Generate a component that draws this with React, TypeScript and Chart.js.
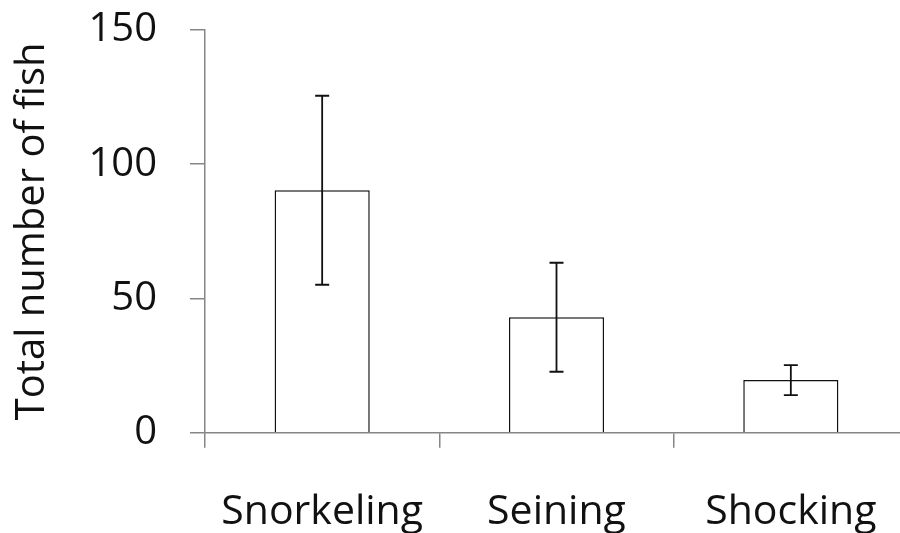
import React, { useEffect, useRef } from "react";
import { Chart, registerables } from "chart.js";

Chart.register(...registerables);

// Sampling methods and the fish counts recorded with each
const methods = ["Snorkeling", "Seining", "Shocking"];
const totalFish = [90.3, 43, 19.6];
const fishError = [35.2, 20.3, 5.6];
const yTicks = [0, 50, 100, 150];

const AXIS_GREY = "#868686";
const FONT = "'Open Sans', sans-serif";

// Draws symmetric error bars with caps on each bar
const errorBars = {
  id: "errorBars",
  afterDatasetsDraw(chart: any) {
    const meta = chart.getDatasetMeta(0);
    const y = chart.scales.y;
    const ctx = chart.ctx;
    ctx.save();
    ctx.strokeStyle = "#111";
    ctx.lineWidth = 1.8;
    meta.data.forEach((bar: any, i: number) => {
      const hi = y.getPixelForValue(totalFish[i] + fishError[i]);
      const lo = y.getPixelForValue(totalFish[i] - fishError[i]);
      const half = 7;
      ctx.beginPath();
      ctx.moveTo(bar.x, hi);
      ctx.lineTo(bar.x, lo);
      ctx.moveTo(bar.x - half, hi);
      ctx.lineTo(bar.x + half, hi);
      ctx.moveTo(bar.x - half, lo);
      ctx.lineTo(bar.x + half, lo);
      ctx.stroke();
    });
    ctx.restore();
  },
};

export default function App() {
  const ref = useRef<HTMLCanvasElement>(null);

  useEffect(() => {
    if (!ref.current) return;
    const chart = new Chart(ref.current, {
      type: "bar",
      data: {
        labels: methods,
        datasets: [
          {
            data: totalFish,
            backgroundColor: "#ffffff",
            borderColor: "#111111",
            borderWidth: 1.5,
            categoryPercentage: 1,
            barPercentage: 0.406,
          },
        ],
      },
      options: {
        responsive: false,
        animation: false,
        events: [],
        layout: { padding: { top: 30, right: 12, left: 0, bottom: 0 } },
        plugins: {
          legend: { display: false },
          tooltip: { enabled: false },
        },
        scales: {
          x: {
            grid: {
              drawOnChartArea: false,
              drawTicks: true,
              tickLength: 15,
              color: AXIS_GREY,
              lineWidth: 1.5,
              offset: true,
            },
            border: { display: true, color: AXIS_GREY, width: 1.5 },
            ticks: {
              color: "#111",
              font: { family: FONT, size: 41 },
              padding: 40,
              maxRotation: 0,
            },
            afterFit(scale: any) {
              scale.height = 100.3;
            },
          },
          y: {
            min: 0,
            max: 150,
            afterBuildTicks(scale: any) {
              scale.ticks = yTicks.map((v) => ({ value: v }));
            },
            grid: {
              drawOnChartArea: false,
              drawTicks: true,
              tickLength: 15,
              color: AXIS_GREY,
              lineWidth: 1.5,
            },
            border: { display: true, color: AXIS_GREY, width: 1.5 },
            ticks: {
              color: "#111",
              font: { family: FONT, size: 40 },
              padding: 33,
            },
            title: {
              display: true,
              text: "Total number of fish",
              color: "#111",
              font: { family: FONT, size: 40 },
              padding: { top: 9, bottom: 0 },
            },
            afterFit(scale: any) {
              scale.width = 205;
              scale.paddingTop = 0;
              scale.paddingBottom = 0;
            },
          },
        },
      },
      plugins: [errorBars],
    });
    return () => chart.destroy();
  }, []);

  return (
    <div
      style={{
        position: "fixed",
        left: 0,
        top: 0,
        width: 900,
        height: 533,
        overflow: "hidden",
        background: "#fff",
      }}
    >
      <canvas ref={ref} width={920} height={533} style={{ display: "block" }} />
    </div>
  );
}
